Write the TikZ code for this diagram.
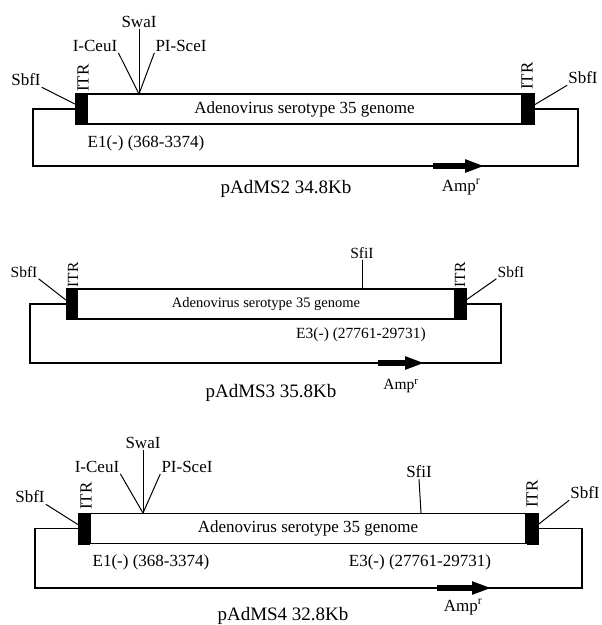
\documentclass[tikz,border=0pt]{standalone}
\usepackage{fontspec}
\setmainfont{Liberation Serif}
\usepackage{tikz}
\usetikzlibrary{arrows.meta,positioning,calc}
\tikzset{
  genome/.style ={rectangle,draw,line width=1.5pt,minimum height=30pt,
                  inner sep=0pt,font=\fontsize{17}{19}\selectfont},
  itr/.style    ={rectangle,draw,fill=black,minimum width=11pt,
                  minimum height=31pt,inner sep=0pt},
  bb/.style     ={line width=1.5pt},
  cut/.style    ={line width=1pt},
  amp/.style    ={line width=5.5pt,-{Triangle[length=20pt,width=12pt]}},
  site/.style   ={font=\fontsize{17}{19}\selectfont,inner sep=1pt},
  itrlbl/.style ={site,rotate=90},
  plasmid/.style={font=\fontsize{19}{21}\selectfont,inner sep=1pt},
  small/.style  ={font=\fontsize{14.5}{16}\selectfont},
  mid/.style    ={font=\fontsize{15.5}{17}\selectfont},
}

\begin{document}
\begin{tikzpicture}[x=1pt,y=-1pt]
  \useasboundingbox (0,0) rectangle (602,625);

  % pAdMS2
  \node[genome,minimum width=435pt] (g1) at (304.5,109) {Adenovirus serotype 35 genome};
  \node[itr,anchor=east] (l1) at (g1.west) {};
  \node[itr,anchor=west] (r1) at (g1.east) {};
  \coordinate (bl1) at (33,166);
  \coordinate (br1) at (578,166);
  \draw[bb] (l1.west) -| (bl1) -- (br1) |- (r1.east);
  \coordinate (a1)  at (433,166);
  \coordinate (a1e) at (485,166);
  \draw[amp] (a1) -- (a1e);
  \node[site] (amp1) at (461,187) {Amp\textsuperscript{r}};
  \node[plasmid] (p1) at (286,189) {pAdMS2 34.8Kb};
  \node[itrlbl] (il1) at (83,78) {ITR};
  \node[itrlbl] (ir1) at (527,76) {ITR};
  \node[site] (sbl1) at (26,80) {SbfI};
  \node[site] (sbr1) at (583,78) {SbfI};
  \draw[cut] (sbl1.south east) -- ([yshift=5pt]l1.west);
  \draw[cut] (sbr1.south west) -- ([yshift=4pt]r1.east);
  \coordinate (c1) at (139,94);
  \node[site] (sw1) at (139,22) {SwaI};
  \node[site] (ic1) at (95,46) {I-CeuI};
  \node[site] (ps1) at (181,46) {PI-SceI};
  \draw[cut] (sw1.south) -- (c1);
  \draw[cut] (ic1.south east) -- (c1);
  \draw[cut] (ps1.south west) -- (c1);
  \node[site] (e11) at (146,143) {E1(-) (368-3374)};

  % pAdMS3
  \node[genome,small,minimum width=378pt] (g2) at (266,304) {Adenovirus serotype 35 genome};
  \node[itr,anchor=east,minimum width=10pt] (l2) at (g2.west) {};
  \node[itr,anchor=west,minimum width=10pt] (r2) at (g2.east) {};
  \coordinate (bl2) at (30,363);
  \coordinate (br2) at (501,363);
  \draw[bb] (l2.west) -| (bl2) -- (br2) |- (r2.east);
  \coordinate (a2)  at (378,363);
  \coordinate (a2e) at (425,363);
  \draw[amp] (a2) -- (a2e);
  \node[site,mid] (amp2) at (401,386) {Amp\textsuperscript{r}};
  \node[plasmid] (p2) at (271,393) {pAdMS3 35.8Kb};
  \node[itrlbl,mid] (il2) at (73,275) {ITR};
  \node[itrlbl,mid] (ir2) at (460,275) {ITR};
  \node[site,mid] (sbl2) at (24,272) {SbfI};
  \node[site,mid] (sbr2) at (511,272) {SbfI};
  \draw[cut] (sbl2.south east) -- ([yshift=4pt]l2.west);
  \draw[cut] (sbr2.south west) -- ([yshift=4pt]r2.east);
  \coordinate (c2) at (362,289);
  \node[site,mid] (sf2) at (362,253) {SfiI};
  \draw[cut] (sf2.south) -- (c2);
  \node[site,mid] (e32) at (361,335) {E3(-) (27761-29731)};

  % pAdMS4
  \node[genome,minimum width=436pt] (g3) at (308,528.5) {Adenovirus serotype 35 genome};
  \node[itr,anchor=east] (l3) at (g3.west) {};
  \node[itr,anchor=west] (r3) at (g3.east) {};
  \coordinate (bl3) at (35,588);
  \coordinate (br3) at (582,588);
  \draw[bb] (l3.west) -| (bl3) -- (br3) |- (r3.east);
  \coordinate (a3)  at (437,588);
  \coordinate (a3e) at (492,588);
  \draw[amp] (a3) -- (a3e);
  \node[site] (amp3) at (463,607) {Amp\textsuperscript{r}};
  \node[plasmid] (p3) at (283,616) {pAdMS4 32.8Kb};
  \node[itrlbl] (il3) at (86,496) {ITR};
  \node[itrlbl] (ir3) at (532,494) {ITR};
  \node[site] (sbl3) at (30,497) {SbfI};
  \node[site] (sbr3) at (585,493) {SbfI};
  \draw[cut] (sbl3.south east) -- ([yshift=4pt]l3.west);
  \draw[cut] (sbr3.south west) -- ([yshift=4pt]r3.east);
  \coordinate (c3) at (143,513);
  \node[site] (sw3) at (143,443) {SwaI};
  \node[site] (ic3) at (97,467) {I-CeuI};
  \node[site] (ps3) at (187,467) {PI-SceI};
  \draw[cut] (sw3.south) -- (c3);
  \draw[cut] (ic3.south east) -- (c3);
  \draw[cut] (ps3.south west) -- (c3);
  \coordinate (c4) at (421,513);
  \node[site] (sf3) at (419,472) {SfiI};
  \draw[cut] (sf3.south) -- (c4);
  \node[site] (e13) at (151,562) {E1(-) (368-3374)};
  \node[site] (e33) at (420,562) {E3(-) (27761-29731)};
\end{tikzpicture}
\end{document}
